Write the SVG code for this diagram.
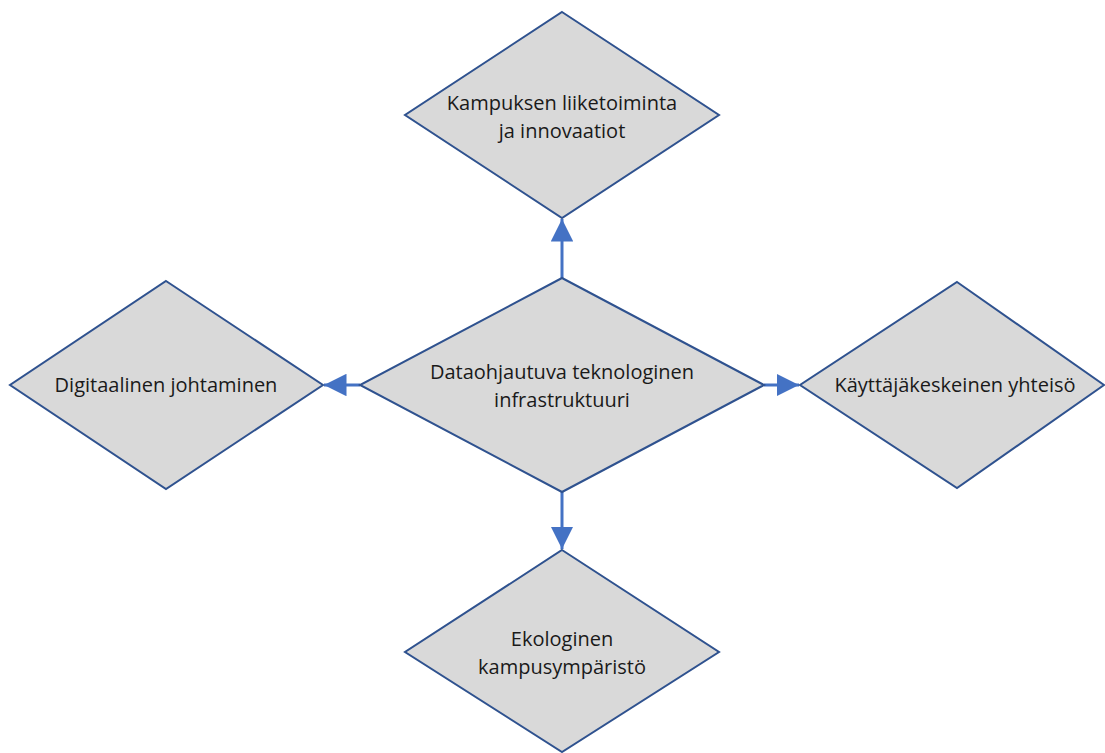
<svg xmlns="http://www.w3.org/2000/svg" width="1105" height="753" viewBox="0 0 1105 753">
<defs>
<style>
.n{fill:#D9D9D9;stroke:#2F528F;stroke-width:2}
.t{font-family:"Open Sans","Liberation Sans",sans-serif;font-size:20px;fill:#1a1a1a;text-anchor:middle}
.c{stroke:#4472C4;stroke-width:3;fill:none}
</style>
<marker id="ah" viewBox="0 0 10 10" refX="10" refY="5" markerWidth="7.5" markerHeight="7.5" markerUnits="strokeWidth" orient="auto">
<path d="M0,0 L10,5 L0,10 z" fill="#4472C4"/>
</marker>
</defs>
<rect width="1105" height="753" fill="#ffffff"/>
<g id="connectors">
<line class="c" x1="562" y1="278" x2="562" y2="219" marker-end="url(#ah)"/>
<line class="c" x1="360" y1="385" x2="324" y2="385" marker-end="url(#ah)"/>
<line class="c" x1="764" y1="385" x2="799" y2="385" marker-end="url(#ah)"/>
<line class="c" x1="562" y1="492" x2="562" y2="549" marker-end="url(#ah)"/>
</g>
<g id="center">
<polygon class="n" points="562,278 764,385 562,492 360,385"/>
<text class="t" x="562" y="379">Dataohjautuva teknologinen</text>
<text class="t" x="562" y="407">infrastruktuuri</text>
</g>
<g id="top">
<polygon class="n" points="562,12 719,115 562,218 405,115"/>
<text class="t" x="562" y="110">Kampuksen liiketoiminta</text>
<text class="t" x="562" y="138">ja innovaatiot</text>
</g>
<g id="left">
<polygon class="n" points="166,281 323,385 166,489 10,385"/>
<text class="t" x="166" y="392">Digitaalinen johtaminen</text>
</g>
<g id="right">
<polygon class="n" points="957,282 1104,385 957,488 800,385"/>
<text class="t" x="955" y="392">Käyttäjäkeskeinen yhteisö</text>
</g>
<g id="bottom">
<polygon class="n" points="562,550 719,652 562,752 405,652"/>
<text class="t" x="562" y="646">Ekologinen</text>
<text class="t" x="562" y="674">kampusympäristö</text>
</g>
</svg>
